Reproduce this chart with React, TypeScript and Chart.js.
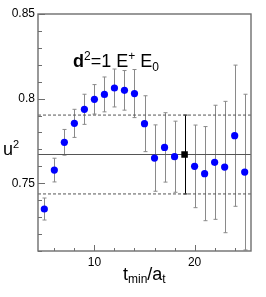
import React, { useEffect, useRef } from "react";
import { Chart, registerables } from "chart.js";

Chart.register(...registerables);

// ---- data ----
const tValues = [5, 6, 7, 8, 9, 10, 11, 12, 13, 14, 15, 16, 17, 18, 19, 20, 21, 22, 23, 24, 25];
const u2Values = [
  0.7348, 0.7578, 0.7742, 0.7854, 0.7937, 0.7996, 0.8025, 0.8063, 0.8049, 0.803,
  0.7852, 0.7649, 0.7712, 0.7657, 0.767, 0.76, 0.7557, 0.7624, 0.7596, 0.7781, 0.7566,
];
const u2Errors = [
  0.0065, 0.007, 0.0076, 0.0083, 0.0089, 0.0087, 0.0103, 0.0112, 0.0117, 0.0142,
  0.0165, 0.0196, 0.0205, 0.021, 0.0233, 0.0244, 0.0278, 0.0337, 0.0388, 0.0417, 0.046,
];
const selectedT = 19;
const fitValue = 0.767;
const fitError = 0.0233;

const xRange = [4.37, 25.63];
const yRange = [0.71, 0.85];
const xTickLabels = [10, 20];
const yTickLabels = ["0.75", "0.8", "0.85"];

const FONT = '"Liberation Sans", Arial, Helvetica, sans-serif';
const FRAME = "#6e6e6e";

function drawSegments(ctx: CanvasRenderingContext2D, x: number, y: number, segs: any[]) {
  let cx = x;
  for (const s of segs) {
    ctx.font = `${s.bold ? "bold " : ""}${s.size}px ${FONT}`;
    ctx.fillText(s.t, cx, y + (s.dy || 0));
    cx += ctx.measureText(s.t).width + (s.gap || 0);
  }
}

const overlayPlugin = {
  id: "overlay",
  beforeDatasetsDraw(chart: any) {
    const { ctx, chartArea, scales } = chart;
    const xs = scales.x, ys = scales.y;
    ctx.save();
    ctx.beginPath();
    ctx.rect(chartArea.left, chartArea.top, chartArea.right - chartArea.left, chartArea.bottom - chartArea.top);
    ctx.clip();
    tValues.forEach((t, i) => {
      const px = Math.round(xs.getPixelForValue(t)) + 0.5;
      const top = ys.getPixelForValue(u2Values[i] + u2Errors[i]);
      const bot = ys.getPixelForValue(u2Values[i] - u2Errors[i]);
      ctx.strokeStyle = t === selectedT ? "#000000" : "#8a8a8a";
      ctx.lineWidth = 1;
      ctx.beginPath();
      ctx.moveTo(px, top);
      ctx.lineTo(px, bot);
      ctx.moveTo(px - 2, top);
      ctx.lineTo(px + 2, top);
      ctx.moveTo(px - 2, bot);
      ctx.lineTo(px + 2, bot);
      ctx.stroke();
    });
    ctx.restore();
  },
  afterDatasetsDraw(chart: any) {
    const { ctx, chartArea, scales } = chart;
    const xs = scales.x, ys = scales.y;
    ctx.save();
    // frame
    ctx.strokeStyle = FRAME;
    ctx.lineWidth = 1.4;
    ctx.strokeRect(chartArea.left, chartArea.top, chartArea.right - chartArea.left, chartArea.bottom - chartArea.top);
    // ticks
    ctx.lineWidth = 1;
    ctx.beginPath();
    for (let k = 71; k <= 85; k++) {
      const v = k / 100;
      const py = Math.round(ys.getPixelForValue(v)) + 0.5;
      const len = k % 5 === 0 ? 7 : 4;
      ctx.moveTo(chartArea.left, py);
      ctx.lineTo(chartArea.left + len, py);
    }
    for (let t = 6; t <= 24; t += 2) {
      const px = Math.round(xs.getPixelForValue(t)) + 0.5;
      const len = t % 10 === 0 ? 6 : 3;
      ctx.moveTo(px, chartArea.bottom);
      ctx.lineTo(px, chartArea.bottom - len);
    }
    ctx.stroke();
    // texts
    ctx.fillStyle = "#000";
    ctx.textBaseline = "alphabetic";
    ctx.textAlign = "left";
    drawSegments(ctx, 73, 66.5, [
      { t: "d", size: 18, bold: true },
      { t: "2", size: 12, dy: -7 },
      { t: "=1 E", size: 18 },
      { t: "+", size: 12, dy: -7 },
      { t: " E", size: 18 },
      { t: "0", size: 12, dy: 4 },
    ]);
    drawSegments(ctx, 123, 280, [
      { t: "t", size: 18 },
      { t: "min", size: 12, dy: 3 },
      { t: "/a", size: 18 },
      { t: "t", size: 12, dy: 3 },
    ]);
    drawSegments(ctx, 3, 155, [
      { t: "u", size: 18 },
      { t: "2", size: 11, dy: -7 },
    ]);
    ctx.restore();
  },
};

export default function App() {
  const ref = useRef<HTMLCanvasElement>(null);
  useEffect(() => {
    if (!ref.current) return;
    const blue = tValues
      .map((t, i) => ({ x: t, y: u2Values[i] }))
      .filter((p) => p.x !== selectedT);
    const sel = tValues
      .map((t, i) => ({ x: t, y: u2Values[i] }))
      .filter((p) => p.x === selectedT);
    const lineDs = (y: number, dash: number[]) => ({
      type: "line",
      data: [
        { x: xRange[0], y },
        { x: xRange[1], y },
      ],
      borderColor: "#555555",
      borderWidth: 1,
      borderDash: dash,
      pointRadius: 0,
      showLine: true,
    });
    const chart = new Chart(ref.current, {
      type: "scatter",
      data: {
        datasets: [
          { data: sel, pointStyle: "rect", pointRadius: 4.6, backgroundColor: "#000", borderWidth: 0 },
          { data: blue, pointStyle: "circle", pointRadius: 3.6, backgroundColor: "#0000ff", borderWidth: 0 },
          lineDs(fitValue, []),
          lineDs(fitValue + fitError, [3, 2]),
          lineDs(fitValue - fitError, [3, 2]),
        ] as any,
      },
      plugins: [overlayPlugin],
      options: {
        animation: false,
        responsive: false,
        events: [],
        layout: { padding: { top: 14, right: 15, left: 0, bottom: 0 } },
        plugins: { legend: { display: false }, tooltip: { enabled: false } },
        scales: {
          x: {
            type: "linear",
            min: xRange[0],
            max: xRange[1],
            grid: { display: false, drawTicks: false },
            border: { display: false },
            afterFit: (s: any) => { s.height = 46; },
            afterBuildTicks: (s: any) => { s.ticks = xTickLabels.map((v) => ({ value: v })); },
            ticks: {
              padding: 4,
              color: "#000",
              font: { family: FONT, size: 12 },
              callback: (v: any) => String(v),
              maxRotation: 0,
              autoSkip: false,
            },
          },
          y: {
            type: "linear",
            min: yRange[0],
            max: yRange[1],
            grid: { display: false, drawTicks: false },
            border: { display: false },
            afterFit: (s: any) => { s.width = 38; },
            afterBuildTicks: (s: any) => { s.ticks = yTickLabels.map((l) => ({ value: parseFloat(l) })); },
            ticks: {
              padding: 3,
              color: "#000",
              font: { family: FONT, size: 12 },
              callback: (v: any) => {
                const l = yTickLabels.find((s) => Math.abs(parseFloat(s) - v) < 1e-6);
                return l ?? "";
              },
              autoSkip: false,
            },
          },
        },
      },
    });
    return () => chart.destroy();
  }, []);
  return (
    <div style={{ position: "absolute", left: 0, top: 0, width: 266, height: 297, background: "#fff" }}>
      <canvas ref={ref} width={266} height={297} style={{ display: "block" }} />
    </div>
  );
}
